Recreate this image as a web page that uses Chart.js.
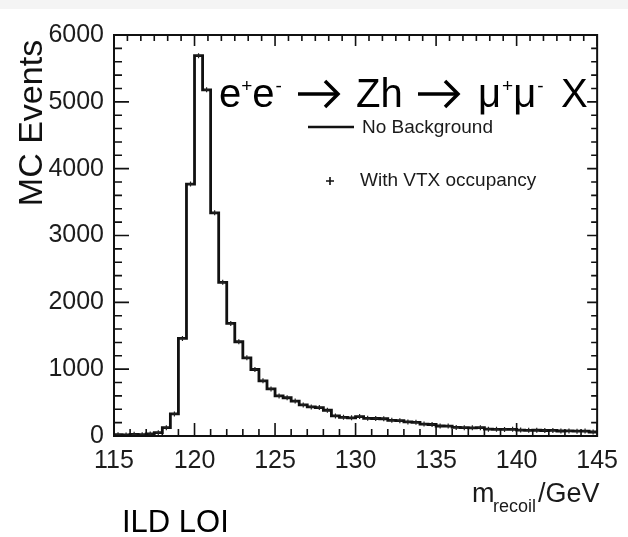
<!DOCTYPE html>
<html><head><meta charset="utf-8">
<script src="https://cdn.jsdelivr.net/npm/chart.js@4.4.1/dist/chart.umd.min.js"></script>
<style>html,body{margin:0;padding:0;background:#fff;}#wrap{width:628px;height:537px;position:relative;}</style>
</head><body><div id="wrap"><canvas id="c" width="628" height="537"></canvas></div>
<script>
// ---- data ----
const binLowEdges = [115.0,115.5,116.0,116.5,117.0,117.5,118.0,118.5,119.0,119.5,
  120.0,120.5,121.0,121.5,122.0,122.5,123.0,123.5,124.0,124.5,
  125.0,125.5,126.0,126.5,127.0,127.5,128.0,128.5,129.0,129.5,
  130.0,130.5,131.0,131.5,132.0,132.5,133.0,133.5,134.0,134.5,
  135.0,135.5,136.0,136.5,137.0,137.5,138.0,138.5,139.0,139.5,
  140.0,140.5,141.0,141.5,142.0,142.5,143.0,143.5,144.0,144.5];
const lastBinUpperEdge = 145.0;
const noBackgroundCounts = [20,15,25,20,30,50,125,330,1460,3770,
  5690,5180,3340,2300,1685,1410,1170,995,825,705,
  600,572,522,465,435,425,385,300,280,272,
  290,265,262,258,235,230,210,205,178,172,
  150,148,128,125,122,125,102,100,98,100,
  88,85,86,82,84,75,76,72,74,60];
const vtxOccupancyCounts = [20,15,25,20,30,50,125,330,1460,3770,
  5690,5180,3340,2300,1685,1410,1170,995,825,705,
  600,572,522,465,435,425,385,300,280,272,
  290,265,262,258,235,230,210,205,178,172,
  150,148,128,125,122,125,102,100,98,100,
  88,85,86,82,84,75,76,72,74,60];
const xTickLabels = ['115','120','125','130','135','140','145'];
const yTickLabels = ['0','1000','2000','3000','4000','5000','6000'];

const SANS = '"Liberation Sans", Arial, Helvetica, sans-serif';
const tickFont = {family:SANS, size:25};

const xMin = Number(xTickLabels[0]), xMax = Number(xTickLabels[xTickLabels.length-1]);
const yMin = Number(yTickLabels[0]), yMax = Number(yTickLabels[yTickLabels.length-1]);

const histPoints = binLowEdges.map((x,i)=>({x:x, y:noBackgroundCounts[i]}));
histPoints.push({x:lastBinUpperEdge, y:noBackgroundCounts[noBackgroundCounts.length-1]});
const vtxPoints = binLowEdges.map((x,i)=>{
  const hi = i+1<binLowEdges.length ? binLowEdges[i+1] : lastBinUpperEdge;
  return {x:(x+hi)/2, y:vtxOccupancyCounts[i]};
});

function txt(ctx,s,x,y,size,o){
  o=o||{};
  ctx.font=(o.weight||'normal')+' '+size+'px '+(o.family||SANS);
  ctx.fillStyle=o.color||'#000';
  ctx.textAlign=o.align||'left';
  ctx.textBaseline=o.baseline||'alphabetic';
  ctx.fillText(s,x,y);
  return ctx.measureText(s).width;
}
function arrow(ctx,x0,x1,cy){
  ctx.save(); ctx.strokeStyle='#000'; ctx.lineWidth=3.5; ctx.lineCap='butt'; ctx.lineJoin='miter';
  ctx.beginPath(); ctx.moveTo(x0,cy); ctx.lineTo(x1-2,cy); ctx.stroke();
  ctx.beginPath(); ctx.moveTo(x1-13,cy-13); ctx.lineTo(x1,cy); ctx.lineTo(x1-13,cy+13); ctx.stroke();
  ctx.restore();
}

const decor = {
  id:'decor',
  beforeDraw(chart){
    const ctx=chart.ctx; ctx.save();
    ctx.fillStyle='#fff'; ctx.fillRect(0,0,chart.width,chart.height);
    ctx.fillStyle='#f4f4f4'; ctx.fillRect(0,0,chart.width,9);
    ctx.restore();
  },
  afterDatasetsDraw(chart){
    const ctx=chart.ctx, a=chart.chartArea, xs=chart.scales.x, ys=chart.scales.y;
    ctx.save();
    ctx.strokeStyle='#111'; ctx.lineWidth=2;
    ctx.strokeRect(a.left,a.top,a.right-a.left,a.bottom-a.top);
    ctx.lineWidth=1.6;
    ctx.beginPath();
    for(let v=xMin; v<=xMax+1e-9; v+=1){
      const px=xs.getPixelForValue(v), major=((v-xMin)%5===0);
      ctx.moveTo(px,a.bottom); ctx.lineTo(px,a.bottom-(major?13:7));
    }
    for(let k=0; k<=36; k++){
      const v=xMin+k*5/6, px=xs.getPixelForValue(v), major=(k%6===0);
      ctx.moveTo(px,a.top); ctx.lineTo(px,a.top+(major?11:6));
    }
    for(let v=yMin; v<=yMax+1e-9; v+=200){
      const py=ys.getPixelForValue(v), major=(v%1000===0);
      ctx.moveTo(a.left,py); ctx.lineTo(a.left+(major?15:8),py);
      ctx.moveTo(a.right,py); ctx.lineTo(a.right-(major?10:6),py);
    }
    ctx.stroke();
    ctx.restore();
  },
  afterDraw(chart){
    const ctx=chart.ctx; ctx.save();
    // title
    const B=107, F=40, S=19, R=15;
    let x=219;
    x+=txt(ctx,'e',x,B,F); x+=txt(ctx,'+',x,B-R,S); x+=txt(ctx,'e',x,B,F); txt(ctx,'-',x+1,B-R,S);
    arrow(ctx,298,338,94);
    txt(ctx,'Zh',356,B,F);
    arrow(ctx,418,458,94);
    x=478;
    x+=txt(ctx,'\u03bc',x,B,F); x+=txt(ctx,'+',x+1,B-R,S)+1; x+=txt(ctx,'\u03bc',x,B,F); txt(ctx,'-',x+1,B-R,S);
    txt(ctx,'X',561,B,F);
    // legend
    ctx.strokeStyle='#111'; ctx.lineWidth=2.5;
    ctx.beginPath(); ctx.moveTo(308,127); ctx.lineTo(354,127); ctx.stroke();
    txt(ctx,'No Background',362,128,19,{baseline:'middle',color:'#1a1a1a'});
    ctx.lineWidth=1.6; ctx.beginPath();
    ctx.moveTo(326,181); ctx.lineTo(334,181); ctx.moveTo(330,177); ctx.lineTo(330,185); ctx.stroke();
    txt(ctx,'With VTX occupancy',360,181,19,{baseline:'middle',color:'#1a1a1a'});
    // y title
    ctx.save(); ctx.translate(33,123); ctx.rotate(-Math.PI/2);
    txt(ctx,'MC Events',0,0,34,{align:'center',baseline:'middle',color:'#111'});
    ctx.restore();
    // x title
    txt(ctx,'m',472,502,27,{color:'#1a1a1a'});
    txt(ctx,'recoil',493,512,18,{color:'#1a1a1a'});
    txt(ctx,'/GeV',538,502,27,{color:'#1a1a1a'});
    // note
    txt(ctx,'ILD LOI',122,532,31,{color:'#000'});
    ctx.restore();
  }
};

new Chart(document.getElementById('c'),{
  type:'line',
  data:{datasets:[
    {label:'No Background', data:histPoints, stepped:'before', borderColor:'#111', borderWidth:2.8,
     pointRadius:0, fill:false, tension:0, order:2},
    {type:'scatter', label:'With VTX occupancy', data:vtxPoints, pointStyle:'cross', pointRadius:2.5,
     borderColor:'#222', borderWidth:1.2, backgroundColor:'#222', showLine:false, order:1}
  ]},
  options:{
    responsive:false, animation:false, devicePixelRatio:1,
    layout:{padding:{top:35,right:26,left:0,bottom:0}},
    plugins:{legend:{display:false},tooltip:{enabled:false},title:{display:false}},
    scales:{
      x:{type:'linear', min:xMin, max:xMax,
         afterBuildTicks(s){ s.ticks = xTickLabels.map(v=>({value:Number(v)})); },
         ticks:{callback:(v)=>String(v), font:tickFont, color:'#1c1c1c', padding:10, maxRotation:0, autoSkip:false},
         grid:{display:false, drawTicks:false}, border:{display:false},
         afterFit(s){ s.height=101; }},
      y:{type:'linear', min:yMin, max:yMax,
         afterBuildTicks(s){ s.ticks = yTickLabels.map(v=>({value:Number(v)})); },
         ticks:{callback:(v)=>String(v), font:tickFont, color:'#1c1c1c', padding:10, autoSkip:false},
         grid:{display:false, drawTicks:false}, border:{display:false},
         afterFit(s){ s.width=114; }}
    }
  },
  plugins:[decor]
});
</script></body></html>
